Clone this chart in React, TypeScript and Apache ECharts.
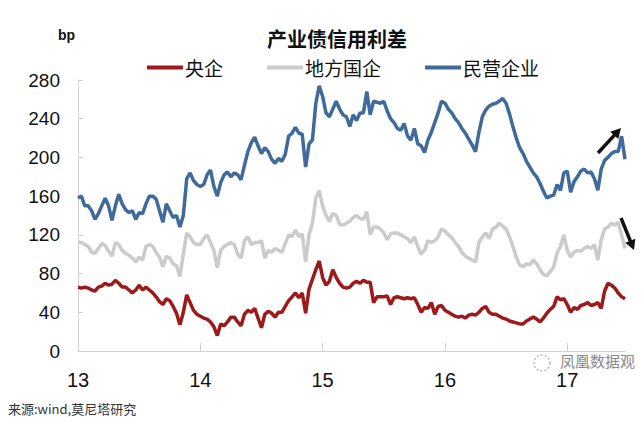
import React, { useEffect, useRef } from "react";
import * as echarts from "echarts";

// sampled roughly every 10 days (36 points per year) from start of 2013
const startYear = 2013;
const pointsPerYear = 36;

const yearLabels = ["13", "14", "15", "16", "17"];
const yTicks = [0, 40, 80, 120, 160, 200, 240, 280];

const seriesNames = ["央企", "地方国企", "民营企业"];

const centralSOE = [
  66, 65, 66, 65, 63, 62, 66, 67, 70, 68, 69, 73, 70, 66, 66, 63, 60, 63, 68, 63, 66, 63, 60, 56, 51, 48, 54, 52, 46, 39, 27, 40, 58, 50, 42, 38,
  36, 34, 33, 30, 25, 16, 28, 26, 30, 35, 35, 30, 26, 38, 42, 40, 44, 34, 24, 38, 41, 39, 35, 40, 40, 46, 52, 56, 60, 55, 60, 39, 64, 74, 84, 93,
  76, 68, 72, 84, 76, 70, 66, 65, 66, 70, 72, 70, 73, 71, 71, 50, 56, 56, 56, 57, 48, 55, 56, 55, 54, 55, 54, 55, 48, 40, 45, 44, 50, 38, 46, 47,
  42, 40, 38, 36, 35, 36, 34, 37, 38, 37, 40, 44, 46, 40, 38, 38, 36, 34, 33, 31, 30, 29, 28, 28, 31, 33, 35, 33, 30, 34, 39, 43, 46, 56, 53, 54,
  48, 40, 45, 43, 47, 48, 50, 47, 48, 50, 44, 62, 70, 68, 65, 60, 56, 54,
];

const localSOE = [
  113, 112, 110, 108, 102, 101, 106, 111, 109, 103, 98, 112, 110, 104, 101, 99, 96, 92, 97, 94, 108, 110, 108, 102, 97, 87, 98, 96, 90, 88, 77, 100, 122, 118, 112, 110,
  110, 116, 120, 112, 104, 86, 104, 108, 110, 112, 110, 100, 96, 114, 118, 110, 112, 112, 114, 96, 104, 102, 106, 104, 102, 111, 120, 118, 125, 118, 121, 92, 120, 132, 158, 166,
  150, 140, 134, 142, 140, 131, 130, 132, 134, 138, 140, 137, 136, 144, 120, 128, 128, 126, 122, 115, 121, 122, 122, 120, 118, 116, 112, 118, 108, 100, 104, 114, 112, 114, 118, 126,
  124, 120, 117, 112, 108, 102, 98, 96, 94, 92, 112, 118, 122, 116, 126, 128, 132, 129, 126, 118, 108, 97, 89, 87, 90, 89, 94, 90, 84, 79, 78, 82, 87, 101, 108, 120,
  104, 97, 102, 104, 103, 106, 108, 106, 110, 94, 115, 126, 128, 132, 130, 133, 120, 106,
];

const privateEnt = [
  158, 160, 150, 150, 145, 136, 142, 150, 158, 150, 135, 150, 162, 152, 146, 143, 145, 136, 143, 142, 152, 160, 160, 157, 145, 133, 152, 145, 138, 140, 128, 140, 178, 184, 176, 172,
  170, 172, 182, 187, 170, 160, 174, 182, 185, 180, 184, 182, 177, 192, 206, 215, 221, 212, 204, 210, 206, 198, 194, 199, 196, 203, 222, 225, 231, 225, 224, 190, 214, 218, 256, 274,
  263, 246, 242, 250, 258, 250, 244, 242, 232, 244, 238, 246, 246, 268, 244, 258, 257, 256, 258, 248, 240, 236, 230, 228, 235, 222, 218, 230, 214, 212, 205, 218, 226, 236, 246, 258,
  256, 250, 246, 240, 236, 230, 225, 219, 213, 206, 226, 242, 249, 253, 255, 256, 258, 261, 256, 245, 232, 220, 210, 204, 196, 190, 184, 180, 173, 165, 158, 160, 161, 172, 166, 184,
  186, 164, 175, 180, 186, 188, 184, 185, 178, 166, 188, 197, 200, 204, 206, 206, 222, 198,
];

const colors = ["#9c1a1a", "#cbcbcb", "#3f6a9a"];

const toPoints = (vals: number[]) => vals.map((v, i) => [startYear + i / pointsPerYear, v]);

const CN = '"Noto Sans CJK SC", "Noto Sans", sans-serif';
const NUM = '"Liberation Sans", Arial, sans-serif';

function arrow(x1: number, y1: number, x2: number, y2: number) {
  const dx = x2 - x1;
  const dy = y2 - y1;
  const len = Math.sqrt(dx * dx + dy * dy);
  const ux = dx / len;
  const uy = dy / len;
  const hl = 10;
  const hw = 5.5;
  const bx = x2 - ux * hl;
  const by = y2 - uy * hl;
  const px = -uy;
  const py = ux;
  return [
    {
      type: "line",
      shape: { x1, y1, x2: bx + ux * 1, y2: by + uy * 1 },
      style: { stroke: "#111", lineWidth: 3.5 },
      silent: true,
    },
    {
      type: "polygon",
      shape: {
        points: [
          [x2, y2],
          [bx + px * hw, by + py * hw],
          [bx - px * hw, by - py * hw],
        ],
      },
      style: { fill: "#111" },
      silent: true,
    },
  ];
}

export default function App() {
  const ref = useRef<HTMLDivElement>(null);

  useEffect(() => {
    if (!ref.current) return;
    const chart = echarts.init(ref.current, undefined, { renderer: "svg" });
    const lastX = startYear + (privateEnt.length - 1) / pointsPerYear;
    const yearValues = yearLabels.map((l) => 2000 + Number(l));

    const data = [centralSOE, localSOE, privateEnt];

    chart.setOption({
      animation: false,
      backgroundColor: "#ffffff",
      grid: { left: 78, right: 19, top: 80, bottom: 76, containLabel: false },
      legend: {
        data: seriesNames,
        left: 147,
        top: 58,
        icon: "rect",
        itemWidth: 36,
        itemHeight: 4,
        itemGap: 44,
        padding: 0,
        textStyle: { fontSize: 19, color: "#111", fontFamily: CN, padding: [0, 0, 0, -3] },
      },
      xAxis: {
        type: "value",
        min: startYear,
        max: lastX,
        interval: 1,
        splitLine: { show: false },
        axisLine: { show: true, lineStyle: { color: "#d0d0d0", width: 1 } },
        axisTick: {
          show: true,
          inside: true,
          length: 8,
          lineStyle: { color: "#d0d0d0" },
          customValues: yearValues.slice(1),
        },
        axisLabel: {
          fontSize: 20,
          color: "#111",
          fontFamily: NUM,
          margin: 19,
          customValues: yearValues,
          formatter: (v: number) => {
            const idx = yearValues.indexOf(Math.round(v));
            return idx >= 0 && Math.abs(v - Math.round(v)) < 1e-6 ? yearLabels[idx] : "";
          },
        },
      },
      yAxis: {
        type: "value",
        min: yTicks[0],
        max: yTicks[yTicks.length - 1],
        interval: 40,
        splitLine: { show: false },
        axisLine: { show: true, lineStyle: { color: "#d0d0d0", width: 1 } },
        axisTick: { show: true, inside: true, length: 5, lineStyle: { color: "#d0d0d0" } },
        axisLabel: { fontSize: 19, color: "#111", fontFamily: NUM, margin: 18 },
      },
      series: seriesNames.map((name, k) => ({
        name,
        type: "line",
        data: toPoints(data[k]),
        showSymbol: false,
        symbol: "none",
        lineStyle: { color: colors[k], width: 3.5 },
        itemStyle: { color: colors[k] },
        z: k === 0 ? 4 : k === 1 ? 2 : 3,
      })),
      graphic: [
        {
          type: "text",
          left: 58,
          top: 28,
          style: { text: "bp", fontSize: 14, fontWeight: "bold", fill: "#111", fontFamily: NUM },
        },
        {
          type: "text",
          x: 337,
          y: 38,
          style: {
            text: "产业债信用利差",
            fontSize: 20,
            fontWeight: "bold",
            fill: "#111",
            fontFamily: CN,
            textAlign: "center",
            textVerticalAlign: "middle",
          },
        },
        {
          type: "text",
          left: 8,
          top: 402,
          style: { text: "来源:wind,莫尼塔研究", fontSize: 13, fill: "#333", fontFamily: CN },
        },
        {
          type: "circle",
          shape: { cx: 542, cy: 363, r: 8 },
          style: { fill: "none", stroke: "#aaa", lineWidth: 1.2, lineDash: [2, 2] },
          silent: true,
        },
        {
          type: "text",
          left: 560,
          top: 353,
          style: { text: "凤凰数据观", fontSize: 15, fill: "#888", fontFamily: CN },
        },
        ...arrow(598, 153, 621, 128),
        ...arrow(621, 218, 634, 250),
      ],
    });
    return () => chart.dispose();
  }, []);

  return (
    <div
      ref={ref}
      style={{ position: "fixed", left: 0, top: 0, width: 644, height: 427 }}
    />
  );
}
